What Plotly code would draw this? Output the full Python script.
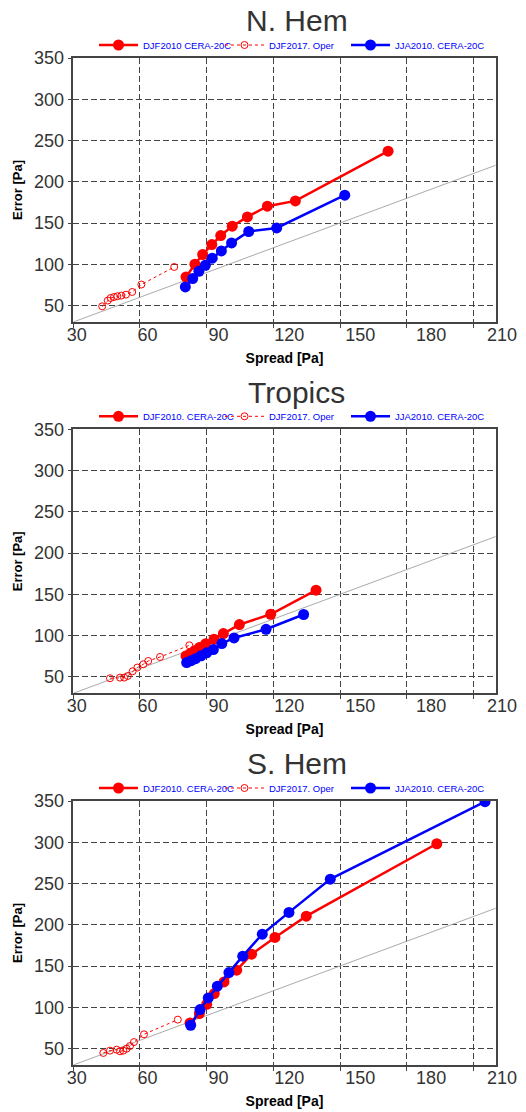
import plotly.graph_objects as go

W, H = 526, 1112

panel_titles = ["N. Hem", "Tropics", "S. Hem"]
names_djf_cera = ["DJF2010 CERA-20C", "DJF2010. CERA-20C", "DJF2010. CERA-20C"]
name_oper = "DJF2017. Oper"
name_jja_cera = "JJA2010. CERA-20C"

x_label_ticks = [30, 60, 90, 120, 150, 180, 210]
y_ticks = [50, 100, 150, 200, 250, 300, 350]
one_to_one = [30, 220]

# N. Hem
nh_djf_cera_spread = [80.7, 84.7, 88.2, 92.3, 96.3, 101.5, 108.3, 117.3, 129.9, 171.6]
nh_djf_cera_error = [84.6, 100.0, 111.8, 123.9, 134.8, 146.1, 157.4, 170.4, 176.8, 237.1]
nh_oper_spread = [43.0, 45.5, 46.8, 48.3, 49.8, 51.6, 53.7, 56.5, 60.6, 75.4]
nh_oper_error = [49.0, 56.0, 59.1, 60.3, 61.2, 62.0, 63.2, 66.4, 75.4, 96.7]
nh_jja_cera_spread = [80.4, 83.7, 86.5, 89.4, 92.5, 96.6, 101.2, 108.9, 121.5, 152.1]
nh_jja_cera_error = [72.5, 82.6, 91.5, 98.8, 107.3, 116.1, 125.9, 139.7, 144.0, 183.7]

# Tropics
tr_djf_cera_spread = [80.7, 82.5, 84.5, 86.8, 89.5, 93.3, 97.5, 104.7, 118.8, 139.2]
tr_djf_cera_error = [75.2, 78.0, 81.5, 85.5, 90.0, 95.5, 102.4, 113.3, 125.8, 155.0]
tr_oper_spread = [46.5, 51.0, 52.9, 54.5, 56.7, 58.8, 61.5, 63.7, 69.0, 82.2]
tr_oper_error = [48.2, 49.0, 49.0, 51.0, 56.7, 61.2, 65.2, 69.2, 74.0, 88.2]
tr_jja_cera_spread = [81.0, 83.0, 85.0, 87.5, 90.0, 93.0, 96.8, 102.3, 116.7, 133.6]
tr_jja_cera_error = [67.2, 69.5, 72.0, 75.5, 79.0, 83.0, 90.3, 97.1, 107.6, 125.5]

# S. Hem
sh_djf_cera_spread = [82.5, 86.7, 90.0, 93.4, 97.8, 103.5, 110.2, 120.7, 134.8, 193.5]
sh_djf_cera_error = [81.0, 92.3, 103.6, 116.6, 130.7, 144.9, 164.3, 184.6, 210.4, 298.2]
sh_oper_spread = [43.5, 46.5, 49.5, 51.0, 52.5, 54.0, 55.5, 57.3, 61.8, 77.0]
sh_oper_error = [44.6, 47.4, 48.6, 46.6, 47.4, 49.8, 53.0, 57.8, 67.2, 85.0]
sh_jja_cera_spread = [82.8, 87.0, 90.7, 94.8, 100.0, 106.2, 115.0, 127.0, 145.6, 215.2]
sh_jja_cera_error = [78.2, 97.2, 111.3, 125.5, 142.1, 161.9, 188.6, 215.0, 255.3, 349.2]

panels = [
    (nh_djf_cera_spread, nh_djf_cera_error, nh_oper_spread, nh_oper_error, nh_jja_cera_spread, nh_jja_cera_error),
    (tr_djf_cera_spread, tr_djf_cera_error, tr_oper_spread, tr_oper_error, tr_jja_cera_spread, tr_jja_cera_error),
    (sh_djf_cera_spread, sh_djf_cera_error, sh_oper_spread, sh_oper_error, sh_jja_cera_spread, sh_jja_cera_error),
]

FONT = "Liberation Sans, Arial, sans-serif"
panel_tops = [58, 429.3, 801]
panel_h = 264
x_left, x_right = 73.3, 495.7
lab_left, lab_right = 76.7, 502.0

fig = go.Figure()
layout = dict(
    width=W, height=H, margin=dict(l=0, r=0, t=0, b=0, autoexpand=False),
    paper_bgcolor="white", plot_bgcolor="rgba(0,0,0,0)",
    showlegend=True, annotations=[],
)

grid_style = dict(showgrid=True, gridcolor="#444444", gridwidth=1, griddash="6px,3px",
                  zeroline=False, showline=True, linecolor="#444444", linewidth=1.5, mirror=True,
                  ticks="outside", ticklen=4, tickcolor="#444444", tickwidth=1, automargin=False)

for i, (title, data) in enumerate(zip(panel_titles, panels)):
    ds, de, os_, oe, js, je = data
    sfx = "" if i == 0 else str(i + 1)
    lsfx = str(i + 4)
    leg = "legend" if i == 0 else "legend" + str(i + 1)
    top = panel_tops[i]
    ydom = [1 - (top + panel_h) / H, 1 - top / H]

    fig.add_trace(go.Scatter(x=one_to_one, y=one_to_one, mode="lines",
                             line=dict(color="#aaaaaa", width=1), showlegend=False,
                             xaxis="x" + sfx, yaxis="y" + sfx, hoverinfo="skip"))
    fig.add_trace(go.Scatter(x=ds, y=de, mode="lines+markers", name=names_djf_cera[i],
                             line=dict(color="red", width=2.5),
                             marker=dict(color="red", size=11),
                             xaxis="x" + sfx, yaxis="y" + sfx, legend=leg))
    fig.add_trace(go.Scatter(x=os_, y=oe, mode="lines+markers", name=name_oper,
                             line=dict(color="red", width=1, dash="dot"),
                             marker=dict(color="red", size=7, symbol="circle-open",
                                         line=dict(width=1)),
                             xaxis="x" + sfx, yaxis="y" + sfx, legend=leg))
    fig.add_trace(go.Scatter(x=js, y=je, mode="lines+markers", name=name_jja_cera,
                             line=dict(color="blue", width=2.5),
                             marker=dict(color="blue", size=11),
                             xaxis="x" + sfx, yaxis="y" + sfx, legend=leg))
    # blank spacer entry so the last legend text is not clipped
    fig.add_trace(go.Scatter(x=[None], y=[None], mode="lines", name=" ",
                             line=dict(width=0, color="rgba(0,0,0,0)"),
                             xaxis="x" + sfx, yaxis="y" + sfx, legend=leg, hoverinfo="skip"))
    # hidden subplot carrying the tick-label axis
    fig.add_trace(go.Scatter(x=[], y=[], xaxis="x" + lsfx, yaxis="y" + lsfx,
                             showlegend=False, hoverinfo="skip"))

    layout["xaxis" + sfx] = dict(grid_style, domain=[x_left / W, x_right / W], range=[30, 220],
                                 tick0=30, dtick=30, showticklabels=False, anchor="y" + sfx,
                                 title=dict(text="Spread [Pa]", standoff=26,
                                            font=dict(family=FONT, size=14, color="black", weight="bold")))
    layout["yaxis" + sfx] = dict(grid_style, domain=ydom, range=[30, 350],
                                 tickvals=y_ticks, anchor="x" + sfx,
                                 tickfont=dict(family=FONT, size=18, color="#333333"),
                                 title=dict(text="Error [Pa]", standoff=8,
                                            font=dict(family=FONT, size=13, color="black", weight="bold")))
    layout["xaxis" + lsfx] = dict(domain=[lab_left / W, lab_right / W], range=[30, 210],
                                  tickvals=x_label_ticks, showgrid=False, zeroline=False,
                                  showline=False, ticks="", anchor="y" + lsfx, automargin=False,
                                  tickfont=dict(family=FONT, size=18, color="#333333"),
                                  fixedrange=True)
    layout["yaxis" + lsfx] = dict(domain=ydom, range=[0, 1], visible=False, showgrid=False,
                                  zeroline=False, anchor="x" + lsfx, fixedrange=True, automargin=False)
    layout[leg] = dict(orientation="h", x=94 / W, xanchor="left",
                       y=1 - (top - 13) / H, yanchor="middle",
                       font=dict(family=FONT, size=9.5, color="blue"),
                       itemwidth=39, entrywidth=72, entrywidthmode="pixels",
                       bgcolor="rgba(0,0,0,0)", borderwidth=0, tracegroupgap=0)
    layout["annotations"].append(dict(text=title, x=296.7 / W, y=1 - (top - 37) / H,
                                      xref="paper", yref="paper", xanchor="center", yanchor="middle",
                                      showarrow=False, font=dict(family=FONT, size=30, color="#333333")))

fig.update_layout(**layout)
fig.write_html("out.html", config={"displayModeBar": False},
               post_script="document.body.style.margin='0px';document.body.style.overflow='hidden';")
